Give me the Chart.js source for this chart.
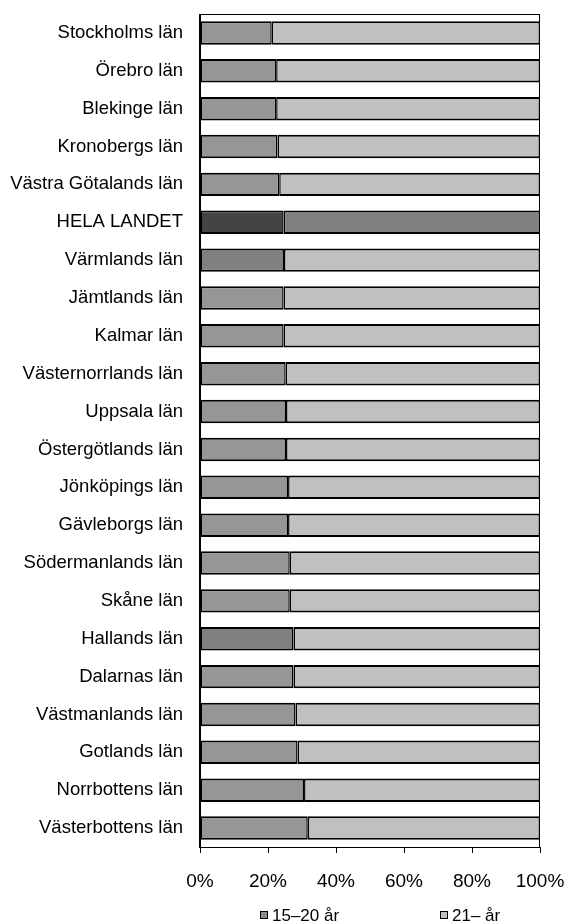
<!DOCTYPE html>
<html>
<head>
<meta charset="utf-8">
<script src="https://cdn.jsdelivr.net/npm/chart.js@4"></script>
<style>
  body { margin: 0; background: #fff; }
  #wrap { width: 571px; height: 924px; position: relative; }
</style>
</head>
<body>
<div id="wrap"><canvas id="myChart"></canvas></div>
<script>
let categories = ["Stockholms län", "Örebro län", "Blekinge län", "Kronobergs län", "Västra Götalands län",
    "HELA LANDET", "Värmlands län", "Jämtlands län", "Kalmar län", "Västernorrlands län", "Uppsala län",
    "Östergötlands län", "Jönköpings län", "Gävleborgs län", "Södermanlands län", "Skåne län", "Hallands län",
    "Dalarnas län", "Västmanlands län", "Gotlands län", "Norrbottens län", "Västerbottens län"];

let young = [21.1, 22.4, 22.4, 22.8, 23.3, 24.6, 24.7, 24.6, 24.6, 25.2, 25.3,
    25.3, 25.9, 25.9, 26.4, 26.4, 27.5, 27.5, 28.1, 28.7, 30.6, 31.7];
let older = [78.9, 77.6, 77.6, 77.2, 76.7, 75.4, 75.3, 75.4, 75.4, 74.8, 74.7,
    74.7, 74.1, 74.1, 73.6, 73.6, 72.5, 72.5, 71.9, 71.3, 69.4, 68.3];

let seriesNames = ["15–20 år", "21– år"];
let xTicks = [0, 20, 40, 60, 80, 100];

// per-bar colours (riket + two län are highlighted darker)
let youngColors = categories.map(c => c === "HELA LANDET" ? "#444444" :
    (c === "Värmlands län" || c === "Hallands län") ? "#808080" : "#969696");
let olderColors = categories.map(c => c === "HELA LANDET" ? "#808080" : "#c0c0c0");
let legendColors = ["#8a8a8a", "#c0c0c0"];

let plotBox = {
    id: "plotBox",
    afterDraw(chart) {
        let ctx = chart.ctx;
        let a = chart.chartArea;
        ctx.save();
        ctx.strokeStyle = "#000";
        ctx.lineWidth = 1;
        ctx.strokeRect(a.left - 0.5, a.top + 0.5, a.right - a.left, a.bottom - a.top);

        // legend
        ctx.font = "17px 'Liberation Sans', Arial, sans-serif";
        ctx.textBaseline = "middle";
        let y = 915;
        let xs = [260, 440];
        chart.data.datasets.forEach((ds, i) => {
            ctx.fillStyle = legendColors[i];
            ctx.fillRect(xs[i] + 0.5, y - 3.5, 7, 7);
            ctx.strokeRect(xs[i] + 0.5, y - 3.5, 7, 7);
            ctx.fillStyle = "#000";
            ctx.fillText(ds.label, xs[i] + 12, y + 1);
        });
        ctx.restore();
    }
};

let myChart = document.getElementById("myChart").getContext("2d");

let lanChart = new Chart(myChart, {
    type: "bar",
    data: {
        labels: categories,
        datasets: [{
                label: seriesNames[0],
                data: young,
                backgroundColor: youngColors,
                borderColor: "#000",
                borderWidth: {top: 2, bottom: 2, left: 1.5, right: 1.5},
                borderSkipped: false
            },
            {
                label: seriesNames[1],
                data: older,
                backgroundColor: olderColors,
                borderColor: "#000",
                borderWidth: {top: 2, bottom: 2, left: 1.5, right: 1.5},
                borderSkipped: false
            }
        ]
    },
    options: {
        indexAxis: "y",
        responsive: true,
        maintainAspectRatio: false,
        animation: false,
        barPercentage: 1,
        categoryPercentage: 0.62,
        layout: {
            padding: {top: 14, right: 31, left: 0, bottom: 31}
        },
        plugins: {
            legend: {display: false},
            tooltip: {enabled: false}
        },
        scales: {
            x: {
                stacked: true,
                min: 0,
                max: 100,
                afterBuildTicks: function(scale) {
                    scale.ticks = xTicks.map(v => ({value: v}));
                },
                afterFit: function(scale) {
                    scale.height = 46;
                    scale.paddingLeft = 0;
                    scale.paddingRight = 0;
                },
                grid: {
                    drawOnChartArea: false,
                    drawTicks: true,
                    tickLength: 6,
                    color: "#000"
                },
                border: {display: true, color: "#000"},
                ticks: {
                    padding: 17,
                    color: "#000",
                    maxRotation: 0,
                    font: {family: "'Liberation Sans', Arial, sans-serif", size: 19},
                    callback: function(value) {
                        return value + "%";
                    }
                }
            },
            y: {
                stacked: true,
                afterFit: function(scale) {
                    scale.width = 200;
                    scale.paddingTop = 0;
                    scale.paddingBottom = 0;
                },
                grid: {display: false, drawTicks: false, tickLength: 0},
                border: {display: true, color: "#000"},
                ticks: {
                    padding: 17,
                    color: "#000",
                    autoSkip: false,
                    font: {family: "'Liberation Sans', Arial, sans-serif", size: 18.5}
                }
            }
        }
    },
    plugins: [plotBox]
});
</script>
</body>
</html>
